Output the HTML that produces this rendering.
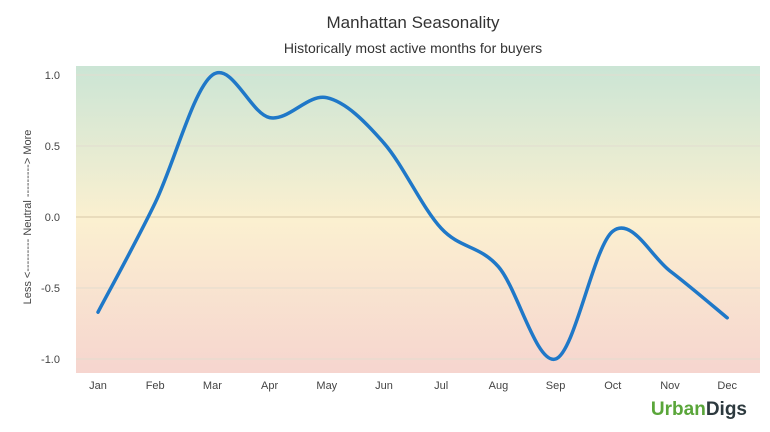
<!DOCTYPE html>
<html><head><meta charset="utf-8"><style>
body{margin:0;background:#fff;width:770px;height:427px;overflow:hidden;font-family:"Liberation Sans",sans-serif}
</style></head><body>
<svg width="770" height="427">
<defs><linearGradient id="bg" x1="0" y1="0" x2="0" y2="1">
<stop offset="0" stop-color="#cbe5d5"/><stop offset="0.5" stop-color="#fbf0d0"/><stop offset="1" stop-color="#f6d5cf"/></linearGradient></defs>
<text x="413" y="28" text-anchor="middle" font-size="17" fill="#333">Manhattan Seasonality</text>
<text x="413" y="53" text-anchor="middle" font-size="14" fill="#333">Historically most active months for buyers</text>
<rect x="76" y="66" width="684" height="307" fill="url(#bg)"/>
<g id="grid"></g><g id="yt"></g><g id="xt"></g>
<text transform="translate(31,217) rotate(-90)" text-anchor="middle" font-size="11" fill="#444">Less &lt;--------- Neutral ---------&gt; More</text>
<path id="line" fill="none" stroke="#1f78c8" stroke-width="3.5" stroke-linecap="round"/>
<text x="747" y="415" text-anchor="end" font-size="19" font-weight="bold"><tspan fill="#5aa63a">Urban</tspan><tspan fill="#2d3a3f">Digs</tspan></text>
</svg>
<script>
const months=["Jan","Feb","Mar","Apr","May","Jun","Jul","Aug","Sep","Oct","Nov","Dec"];
const values=[-0.67,0.1,1.0,0.7,0.84,0.52,-0.08,-0.35,-1.0,-0.1,-0.38,-0.71];
const yTicks=[1.0,0.5,0.0,-0.5,-1.0];
const yTickLabels=["1.0","0.5","0.0","-0.5","-1.0"];
const NS="http://www.w3.org/2000/svg";
function xs(i){return 98+i*57.2;}
function ys(v){return 217-v*142;}
function mk(t,a,p){const e=document.createElementNS(NS,t);for(const k in a)e.setAttribute(k,a[k]);p.appendChild(e);return e;}
const grid=document.getElementById('grid'),yt=document.getElementById('yt'),xt=document.getElementById('xt');
yTicks.forEach((v,i)=>{
 const l=mk('line',{x1:76,x2:760,y1:ys(v),y2:ys(v),stroke:v===0?'#d8c9a8':'#e2dccf','stroke-width':1},grid);
 
 
 const t=mk('text',{x:60,y:ys(v)+4,'text-anchor':'end','font-size':11,fill:'#444'},yt);
 t.textContent=yTickLabels[i];
 
 
});
months.forEach((m,i)=>{
 const t=mk('text',{x:xs(i),y:389,'text-anchor':'middle','font-size':11,fill:'#444'},xt);
 t.textContent=m;
 
 
});
const P=values.map((v,i)=>[xs(i),ys(v)]);
let d='M'+P[0][0]+','+P[0][1];
for(let i=0;i<P.length-1;i++){
 const p0=P[i-1]||P[i],p1=P[i],p2=P[i+1],p3=P[i+2]||P[i+1];
 const c1=[p1[0]+(p2[0]-p0[0])/6,p1[1]+(p2[1]-p0[1])/6];
 const c2=[p2[0]-(p3[0]-p1[0])/6,p2[1]-(p3[1]-p1[1])/6];
 d+=` C${c1[0]},${c1[1]} ${c2[0]},${c2[1]} ${p2[0]},${p2[1]}`;
}
document.getElementById('line').setAttribute('d',d);
</script>
</body></html>
